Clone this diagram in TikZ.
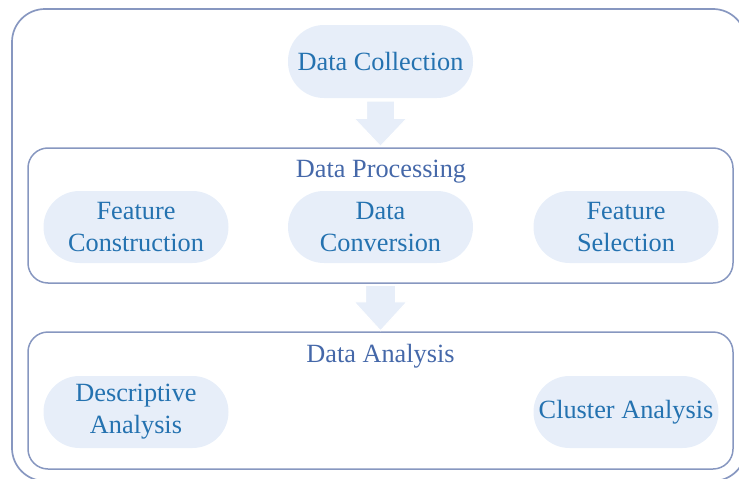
\documentclass[tikz,border=0pt]{standalone}
\usepackage{fontspec}
\setmainfont{Liberation Serif}
\usetikzlibrary{calc}
\definecolor{nodetext}{HTML}{2472B0}
\definecolor{labeltext}{HTML}{4568A9}
\definecolor{boxline}{HTML}{8797C0}
\definecolor{pillfill}{HTML}{E7EEF9}
\tikzset{
  pill/.style={rectangle, rounded corners=35.9pt, fill=pillfill, text=nodetext,
    minimum width=185pt, minimum height=72pt, inner sep=0pt, align=center,
    font=\fontsize{26.3}{32}\selectfont},
  frame/.style={rectangle, draw=boxline, line width=1.5pt, rounded corners=20pt, inner sep=0pt},
  boxlabel/.style={text=labeltext, inner sep=0pt, font=\fontsize{26.3}{32}\selectfont},
  blockarrow/.style={fill=pillfill, draw=white, line width=1pt}
}
\begin{document}
\begin{tikzpicture}[x=1pt,y=-1pt]
\useasboundingbox (0,0) rectangle (739,479);
\clip (0,0) rectangle (739,479);
% outer frame
\node[frame, line width=1.7pt, rounded corners=33pt, minimum width=734pt, minimum height=472pt] (outer) at (379,245) {};
% top node
\node[pill, minimum height=73pt] (dc) at (380.5,61.5) {Data Collection};
% processing box
\node[frame, minimum width=705pt, minimum height=135pt] (proc) at (380.5,215.5) {};
\node[boxlabel, anchor=base] (proclabel) at (381,177) {Data Processing};
\node[pill] (fc) at (136,227) {Feature\\Construction};
\node[pill] (dconv) at (380.5,227) {Data\\Conversion};
\node[pill] (fs) at (626,227) {Feature\\Selection};
% analysis box
\node[frame, minimum width=705pt, minimum height=137pt] (ana) at (380.5,400.5) {};
\node[boxlabel, anchor=base] (analabel) at (380.5,362) {Data Analysis};
\node[pill] (desc) at (136,412) {Descriptive\\Analysis};
\node[pill] (clus) at (626,412) {Cluster Analysis};
% block arrows
\coordinate (a1s) at ($(dc.south)+(0,3)$);
\coordinate (a1e) at ($(proc.north)+(0,-1)$);
\path[blockarrow] ($(a1s)+(-14,0)$) -- ($(a1s)+(14,0)$) -- ($(a1e)+(14,-28)$) -- ($(a1e)+(26.5,-28)$) -- (a1e) -- ($(a1e)+(-26.5,-28)$) -- ($(a1e)+(-14,-28)$) -- cycle;
\coordinate (a2s) at ($(proc.south)+(0,1.5)$);
\coordinate (a2e) at ($(ana.north)+(0,-0.5)$);
\path[blockarrow] ($(a2s)+(-15,0)$) -- ($(a2s)+(15,0)$) -- ($(a2e)+(15,-29)$) -- ($(a2e)+(26.5,-29)$) -- (a2e) -- ($(a2e)+(-26.5,-29)$) -- ($(a2e)+(-15,-29)$) -- cycle;
\end{tikzpicture}
\end{document}
